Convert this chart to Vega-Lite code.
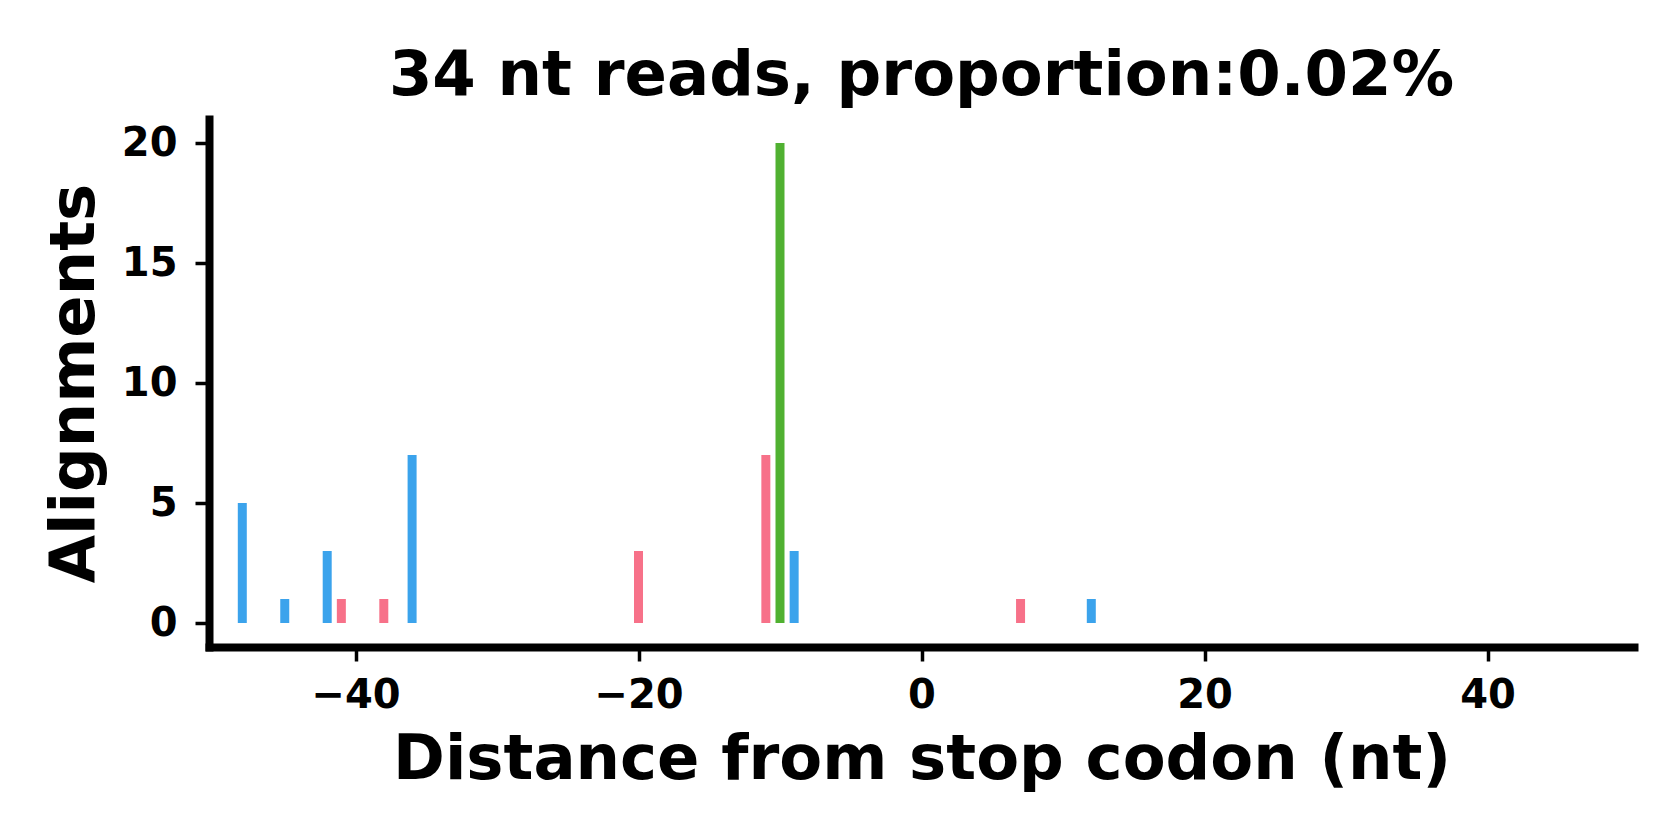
{
  "$schema": "https://vega.github.io/schema/vega-lite/v6.json",
  "width": 1425,
  "height": 528,
  "autosize": "none",
  "padding": {"left": 209, "top": 119, "right": 46, "bottom": 193},
  "background": "white",
  "config": {"view": {"stroke": null}, "font": "DejaVu Sans"},
  "title": {
    "text": "34 nt reads, proportion:0.02%",
    "font": "DejaVu Sans",
    "fontSize": 62.5,
    "fontWeight": "bold",
    "color": "black",
    "anchor": "middle",
    "baseline": "alphabetic",
    "offset": -38
  },
  "data": {
    "values": [
      {"position": -48, "alignments": 5, "frame": "2"},
      {"position": -45, "alignments": 1, "frame": "2"},
      {"position": -42, "alignments": 3, "frame": "2"},
      {"position": -41, "alignments": 1, "frame": "0"},
      {"position": -38, "alignments": 1, "frame": "0"},
      {"position": -36, "alignments": 7, "frame": "2"},
      {"position": -20, "alignments": 3, "frame": "0"},
      {"position": -11, "alignments": 7, "frame": "0"},
      {"position": -10, "alignments": 20, "frame": "1"},
      {"position": -9, "alignments": 3, "frame": "2"},
      {"position": 7, "alignments": 1, "frame": "0"},
      {"position": 12, "alignments": 1, "frame": "2"}
    ]
  },
  "mark": {"type": "bar", "width": 9, "clip": true},
  "encoding": {
    "x": {
      "field": "position",
      "type": "quantitative",
      "scale": {"domain": [-50, 50], "nice": false, "zero": false},
      "axis": {
        "title": "Distance from stop codon (nt)",
        "values": [-40, -20, 0, 20, 40],
        "grid": false,
        "domainColor": "black",
        "domainWidth": 8,
        "domainCap": "square",
        "tickColor": "black",
        "tickWidth": 3.5,
        "tickSize": 14,
        "labelFont": "DejaVu Sans",
        "labelFontSize": 40,
        "labelFontWeight": "bold",
        "labelColor": "black",
        "labelPadding": 14,
        "titleFont": "DejaVu Sans",
        "titleFontSize": 62.5,
        "titleFontWeight": "bold",
        "titleColor": "black",
        "titlePadding": 14
      }
    },
    "y": {
      "field": "alignments",
      "type": "quantitative",
      "scale": {"domain": [-1, 21], "nice": false, "zero": false},
      "axis": {
        "title": "Alignments",
        "values": [0, 5, 10, 15, 20],
        "grid": false,
        "domainColor": "black",
        "domainWidth": 8,
        "domainCap": "square",
        "tickColor": "black",
        "tickWidth": 3.5,
        "tickSize": 14,
        "labelFont": "DejaVu Sans",
        "labelFontSize": 40,
        "labelFontWeight": "bold",
        "labelColor": "black",
        "labelPadding": 18,
        "titleFont": "DejaVu Sans",
        "titleFontSize": 62.5,
        "titleFontWeight": "bold",
        "titleColor": "black",
        "titlePadding": 15
      }
    },
    "y2": {"datum": 0},
    "color": {
      "field": "frame",
      "type": "nominal",
      "scale": {"domain": ["0", "1", "2"], "range": ["#f77189", "#50b131", "#3ba3ec"]},
      "legend": null
    }
  }
}
